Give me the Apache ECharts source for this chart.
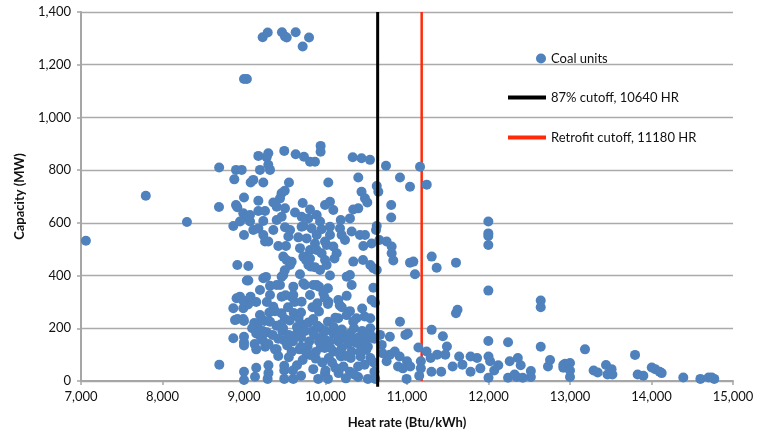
<!DOCTYPE html>
<html>
<head>
<meta charset="utf-8">
<script src="https://cdn.jsdelivr.net/npm/echarts@6/dist/echarts.min.js"></script>
<style>html,body{margin:0;padding:0;background:#fff}#c{width:764px;height:434px}</style>
</head>
<body>
<div id="c"></div>
<script>
// [heat rate (Btu/kWh), capacity (MW)]
var coalUnits = [
[7060,532],[7795,703],[8300,603],[8695,810],[8693,660],[8697,62],
[9229,1304],[9291,1322],[9466,1323],[9503,1307],[9524,1303],[9634,1323],[9798,1303],[9720,1269],[9000,1146],[9035,1146],
[8902,801],[8972,801],[8881,765],[9000,696],[8902,668],[8918,659],[8869,588],[8991,636],[9012,620],[9074,605],[8951,605],[9000,554],
[9176,854],[9298,864],[9278,849],[9196,801],[9319,801],[9114,763],[9082,753],[9237,753],[9298,820],[9494,873],[9634,860],[9736,851],
[9810,832],[9871,832],[9940,892],[9940,870],[9552,753],[10034,753],[9461,712],[9500,722],[9442,693],[9360,677],[9176,684],[9401,661],
[9503,655],[9176,645],[9258,645],[9074,630],[9237,607],[9401,611],[9462,623],[9626,639],[9720,675],[9810,651],[9892,630],[9994,668],
[10055,680],[9707,623],[9789,617],[9933,605],[9176,579],[9360,573],[9503,583],[9565,573],[9728,588],[9830,579],[9952,576],[9237,554],
[9258,529],[9298,529],[9421,512],[9515,512],[9544,548],[9666,545],[9769,541],[9871,522],[9994,529],[9687,504],[9810,497],[9952,485],
[9482,472],[9769,472],
[10334,849],[10442,845],[10546,839],[10742,817],[11160,813],[10914,772],[11037,737],[11242,745],[10402,772],[10629,740],[10648,718],
[10442,718],[10484,693],[10513,677],[10402,655],[10340,651],[10806,668],[10806,620],[10300,617],[10187,611],[10055,585],[10096,649],
[10629,588],[10620,573],[10661,535],[10423,554],[10485,554],[10464,512],[10566,522],[10750,529],[10812,510],[10812,485],[10832,457],
[11037,449],[11078,453],[11303,472],[11364,430],[11601,449],[11998,605],[11998,560],[11998,550],[11998,516],[11998,343],[11098,405],
[10587,428],[10629,421],[10341,453],[10260,396],[10321,364],[10587,354],[10566,307],[10607,297],[10055,400],[9933,421],[9822,434],
[10014,440],[9687,405],[9482,402],[9237,390],[9196,345],[9319,326],[9442,364],[9605,358],[9728,371],[9892,364],[9974,333],[10157,307],
[10260,323],[9585,320],[9810,326],[10034,301],[9565,440],[9728,472],[9892,497],[10137,485],[10014,516],[10096,510],[10239,535],
[10198,554],[10321,567],[9707,585],[9892,554],[10055,554],[10178,579],[9114,573],
[8918,440],[9053,436],[9053,381],[9035,381],[9270,395],[9319,361],[9401,364],[9462,320],[9510,325],[9605,326],[9462,396],[9500,420],
[9523,459],[9585,452],[9748,364],[9760,459],[9810,465],[9790,440],[9870,432],[9851,364],[9920,358],[9707,301],[8909,314],[8950,320],
[8869,276],[8991,276],[8890,231],[8920,235],[8990,235],[9000,228],[9050,290],[8990,305],[8869,162],[9000,168],[9000,147],[9000,135],
[9000,35],[9000,4],[9135,16],[9290,8],[9494,58],[9494,40],[9494,8],[9605,8],[9720,80],[9810,99],[9960,70],[9994,29],[9910,8],[10030,8],
[9196,250],[9220,232],[9125,220],[9165,210],[9250,228],[9230,190],[9230,155],[9360,282],[9380,265],[9310,260],[9460,257],[9500,235],
[9540,280],[9610,258],[9670,240],[9400,210],[9450,214],[9470,190],[9490,155],[9585,111],[9605,170],[9660,190],[9710,214],[9790,222],
[9840,280],[9920,264],[9840,190],[9940,200],[9920,150],[9940,127],
[9994,459],[10110,465],[10460,459],[10550,440],[10300,402],[10030,352],[9990,316],[10030,292],[10175,287],[10157,238],[10260,250],
[10380,238],[10480,245],[10550,238],[10340,225],[10030,225],[10550,200],[10450,175],[10260,170],[10100,180],[10669,175],[10690,137],
[10790,168],[10914,225],[10980,175],[11010,180],[11303,194],[11440,170],[11998,152],[12240,147],[11601,257],[11620,270],
[11140,127],[11240,112],[11370,100],[11490,131],[11470,100],[11640,93],[11780,93],[11860,87],[12000,93],[12020,75],[12120,60],
[12260,75],[12360,87],[11290,87],[11170,75],[11000,75],[10910,93],[10850,112],[10790,100],[10750,75],[10700,105],[10950,48],[10995,8],
[11170,48],[11150,20],[11300,35],[11420,35],[11560,55],[11780,35],[11900,48],[12000,12],[12070,40],[12240,12],[12320,25],[11680,62],
[11040,55],[10890,55],[10600,35],[10520,8],[10610,8],[10400,15],[10300,35],[10160,30],[10000,40],[10120,50],[10220,55],[10400,55],
[10480,62],[10550,87],[10590,70],[10430,93],[10310,87],[10190,93],[10040,87],[9990,125],[10100,112],[10200,125],[10320,112],[10440,137],
[10500,118],[10000,156],[10160,150],[10320,162],[10380,144],
[12345,15],[12395,60],[12420,12],[12520,38],[12520,15],[12641,130],[12641,280],[12641,305],[12755,80],[12730,55],[12918,61],[12940,65],
[12918,50],[13000,68],[13000,40],[13000,15],[13184,120],[13290,40],[13340,32],[13442,61],[13510,45],[13460,25],[13520,25],[13798,99],
[13830,25],[13900,20],[14003,51],[14045,45],[14100,35],[14125,30],[14390,13],[14600,8],[14700,13],[14740,13],[14770,8],
[9100,200],[9150,180],[9200,170],[9280,185],[9350,175],[9420,160],[9480,200],[9550,175],[9600,150],[9650,205],[9700,165],[9750,190],
[9800,150],[9860,175],[9900,210],[9950,165],[10000,190],[10050,150],[10100,205],[10150,170],[10200,195],[10250,160],[10300,180],
[10350,200],[10400,165],[10450,190],[10500,155],[10550,175],[10600,160],[9130,140],[9260,130],[9380,120],[9530,135],[9680,120],
[9780,130],[9880,110],[10060,125],[10180,100],[10280,140],[10420,110],[10520,130],[9320,225],[9560,230],[9700,260],[9850,235],
[10120,240],[10300,265],[10450,275],[9620,300],[9900,295],[10200,280],[9080,320],[9150,300],[9280,300],
[9550,90],[9650,60],[9760,110],[9880,85],[10080,70],[10250,95],[9700,130],[9400,120],[9300,140],[9150,120],[9420,95],[9300,60],
[9150,50],[9300,30],[9600,40],[9700,20],[9850,45],[10250,10],[10350,25]
];
var cutoff87 = [[10640,-22],[10640,1400]];
var cutoffRetrofit = [[11180,0],[11180,1400]];
var seriesNames = ['Coal units','87% cutoff, 10640 HR','Retrofit cutoff, 11180 HR'];

var FONT = 'Lato';
var chart = echarts.init(document.getElementById('c'));
var fmt = function(v){ return v.toLocaleString('en-US'); };
chart.setOption({
  animation: false,
  backgroundColor: '#fff',
  grid: {left: 81, right: 31, top: 12, bottom: 53},
  legend: [
    {data: [{name: seriesNames[0], icon: 'circle'}], left: 531, top: 47, itemWidth: 10, itemHeight: 10,
     textStyle: {fontFamily: FONT, fontSize: 13, color: '#111'}},
    {data: [{name: seriesNames[1], icon: 'rect'}, {name: seriesNames[2], icon: 'rect'}], orient: 'vertical',
     left: 503, top: 86, itemWidth: 38, itemHeight: 4, itemGap: 27,
     textStyle: {fontFamily: FONT, fontSize: 13, color: '#111'}}
  ],
  xAxis: {
    type: 'value', min: 7000, max: 15000, interval: 1000,
    name: 'Heat rate (Btu/kWh)', nameLocation: 'middle', nameGap: 35,
    nameTextStyle: {fontFamily: FONT, fontSize: 13, fontWeight: 'bold', color: '#111'},
    axisLine: {show: true, lineStyle: {color: '#a6a6a6', width: 2}},
    axisTick: {show: true, length: 4, lineStyle: {color: '#a6a6a6', width: 1.5}},
    axisLabel: {fontFamily: FONT, fontSize: 13, color: '#111', margin: 9, formatter: fmt},
    splitLine: {show: false}
  },
  yAxis: {
    type: 'value', min: 0, max: 1400, interval: 200,
    name: 'Capacity (MW)', nameLocation: 'middle', nameGap: 55,
    nameTextStyle: {fontFamily: FONT, fontSize: 13, fontWeight: 'bold', color: '#111'},
    axisLine: {show: true, lineStyle: {color: '#a6a6a6', width: 2}},
    axisTick: {show: true, length: 4, lineStyle: {color: '#a6a6a6', width: 1.5}},
    axisLabel: {fontFamily: FONT, fontSize: 13, color: '#111', margin: 10, formatter: fmt},
    splitLine: {show: true, lineStyle: {color: '#aaaaaa', width: 1.3}}
  },
  series: [
    {name: seriesNames[0], type: 'scatter', data: coalUnits, symbolSize: 10, z: 2,
     itemStyle: {color: '#4f81bd', opacity: 1}},
    {name: seriesNames[1], type: 'line', data: cutoff87, symbol: 'none', clip: false, z: 3,
     color: '#000', itemStyle: {color: '#000'}, lineStyle: {color: '#000', width: 3}},
    {name: seriesNames[2], type: 'line', data: cutoffRetrofit, symbol: 'none', clip: false, z: 1,
     color: '#ff2a0a', itemStyle: {color: '#ff2a0a'}, lineStyle: {color: '#ff2a0a', width: 2.5}}
  ]
});
</script>
</body>
</html>
